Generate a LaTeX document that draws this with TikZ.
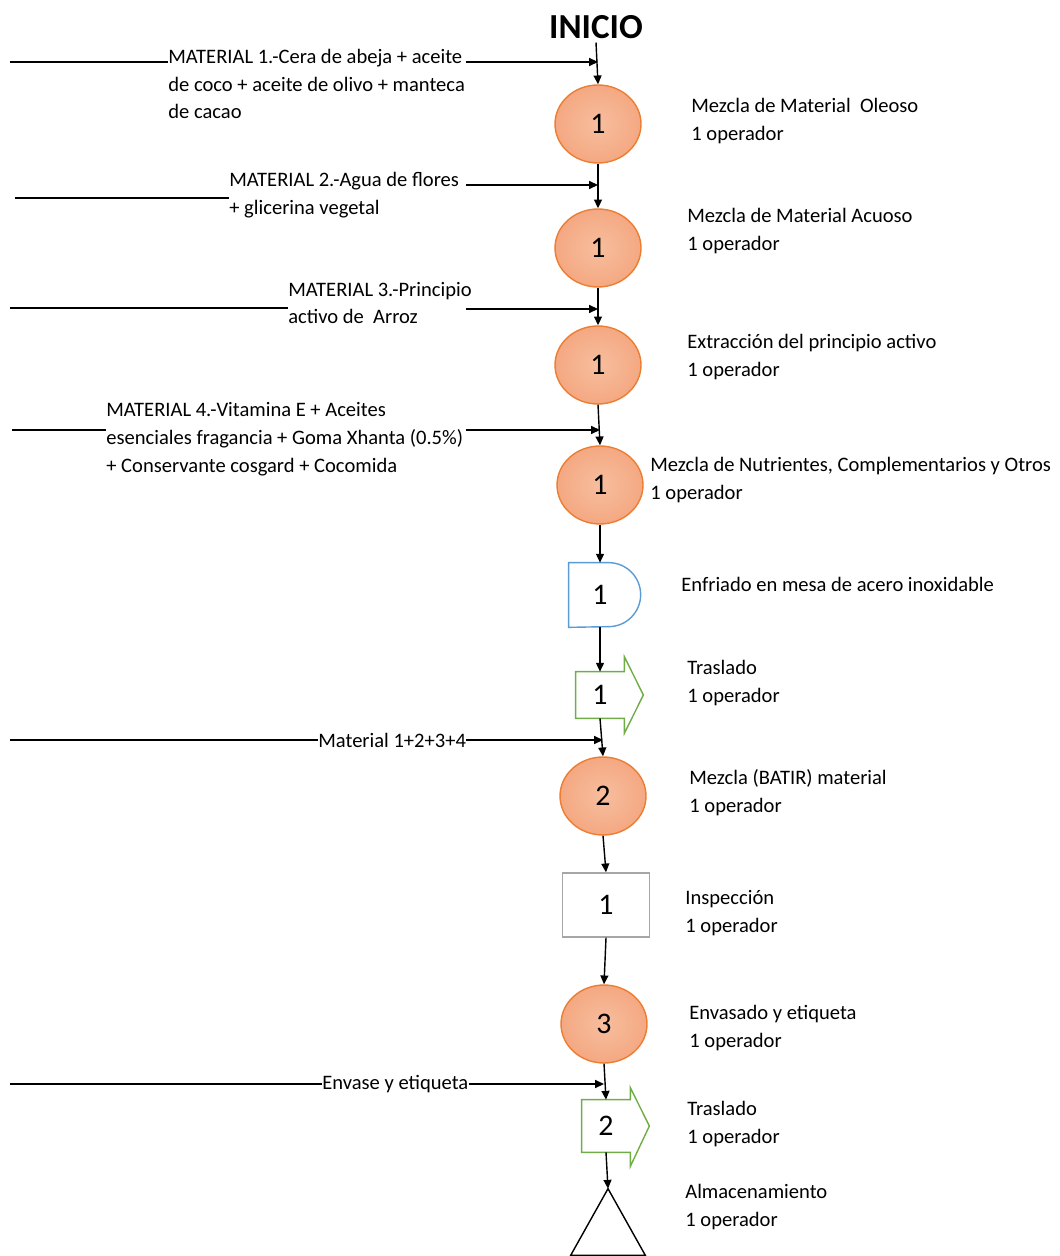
\documentclass[tikz,border=0pt]{standalone}
\usepackage{fontspec}
\setmainfont{Carlito}
\usetikzlibrary{shapes.geometric,arrows.meta,calc}

\definecolor{opclaro}{RGB}{247,190,158}
\definecolor{oposcuro}{RGB}{244,168,130}
\definecolor{opborde}{RGB}{237,125,49}
\definecolor{azul}{RGB}{91,155,213}
\definecolor{verde}{RGB}{112,173,71}
\definecolor{gris}{RGB}{166,166,166}

\begin{document}
\begin{tikzpicture}[x=0.02cm,y=-0.02cm,
    every node/.style={font=\fontsize{11.7}{15.9}\selectfont},
    texto/.style={anchor=west,align=left,inner sep=0pt},
    numero/.style={inner sep=0pt,font=\fontsize{17}{17}\selectfont},
    operacion/.style={numero,ellipse,draw=opborde,line width=0.8pt,inner color=opclaro,outer color=oposcuro,minimum width=1.72cm,minimum height=1.56cm},
    flecha/.style={line width=0.8pt,-{Triangle[length=5pt,width=4.5pt]}},
    linea/.style={line width=0.8pt}]

  \useasboundingbox (0,0) rectangle (1059,1256);

  % inicio y simbolos del proceso
  \node[font=\fontsize{20}{20}\selectfont\bfseries,inner sep=2pt] (inicio) at (596,27) {INICIO};
  \node[operacion] (op1) at (598,124) {1};
  \node[operacion] (op2) at (598,248) {1};
  \node[operacion] (op3) at (598,365) {1};
  \node[operacion] (op4) at (600,485) {1};
  \node[numero,minimum width=1.24cm,minimum height=1.28cm] (enf) at (600,595) {1};
  \node[numero,minimum width=0.96cm,minimum height=0.92cm] (tr1) at (600,695) {1};
  \node[operacion] (op5) at (603,796) {2};
  \node[numero,draw=gris,line width=0.8pt,minimum width=1.74cm,minimum height=1.28cm] (insp) at (606,905) {1};
  \node[operacion] (op6) at (604,1024) {3};
  \node[numero,minimum width=0.96cm,minimum height=1.04cm] (tr2) at (606,1126) {2};
  \node[minimum width=1.48cm,minimum height=1.32cm] (alm) at (608,1222) {};

  % demora (forma de D)
  \draw[azul,line width=0.8pt] (enf.north west) -- ++(40,0) arc[start angle=90,end angle=-90,radius=0.64cm] -- (enf.south west) -- cycle;

  % traslados (flechas de bloque)
  \draw[verde,line width=0.8pt] (tr1.north west) -- (tr1.north east) -- ++(0,-15) -- ($(tr1.east)+(19,0)$) -- ($(tr1.south east)+(0,15)$) -- (tr1.south east) -- (tr1.south west) -- cycle;
  \draw[verde,line width=0.8pt] (tr2.north west) -- (tr2.north east) -- ++(0,-12) -- ($(tr2.east)+(19,0)$) -- ($(tr2.south east)+(0,14)$) -- (tr2.south east) -- (tr2.south west) -- cycle;

  % almacenamiento
  \draw[line width=0.8pt] (alm.north) -- (alm.south east) -- (alm.south west) -- cycle;

  % flujo principal
  \draw[flecha] (inicio.south) -- (op1.north);
  \draw[flecha] (op1.south) -- (op2.north);
  \draw[flecha] (op2.south) -- (op3.north);
  \draw[flecha] (op3.south) -- (op4.north);
  \draw[flecha] (op4.south) -- (enf.north);
  \draw[flecha] (enf.south) -- (tr1.north);
  \draw[flecha] (tr1.south) -- (op5.north);
  \draw[flecha] (op5.south) -- (insp.north);
  \draw[flecha] (insp.south) -- (op6.north);
  \draw[flecha] (op6.south) -- (tr2.north);
  \draw[flecha] (tr2.south) -- (alm.north);

  % materiales que entran al proceso
  \node[texto] (m1) at (168,84) {MATERIAL 1.-Cera de abeja + aceite\\de coco + aceite de olivo + manteca\\de cacao};
  \draw[linea] (10,62) coordinate (m1a) -- (m1a -| m1.west);
  \draw[flecha] (466,62) coordinate (m1b) -- (m1b -| op1);

  \node[texto] (m2) at (229,195) {MATERIAL 2.-Agua de flores\\+ glicerina vegetal};
  \draw[linea] (15,198) coordinate (m2a) -- (m2a -| m2.west);
  \draw[flecha] (466,185) coordinate (m2b) -- (m2b -| op2);

  \node[texto] (m3) at (288,303) {MATERIAL 3.-Principio\\activo de~ Arroz};
  \draw[linea] (10,308) coordinate (m3a) -- (m3a -| m3.west);
  \draw[flecha] (466,309) coordinate (m3b) -- (m3b -| op3);

  \node[texto] (m4) at (106,439) {MATERIAL 4.-Vitamina E + Aceites\\esenciales fragancia + Goma Xhanta (0.5\%)\\+ Conservante cosgard + Cocomida};
  \draw[linea] (12,430) coordinate (m4a) -- (m4a -| m4.west);
  \draw[flecha] (466,430) coordinate (m4b) -- (m4b -| op4);

  \node[texto] (m5) at (318,740) {Material 1+2+3+4};
  \draw[linea] (10,740) coordinate (m5a) -- (m5.west);
  \draw[flecha] (m5.east) -- (m5.east -| op5);

  \node[texto] (m6) at (322,1084) {Envase y etiqueta};
  \draw[linea] (10,1084) coordinate (m6a) -- (m6.west);
  \draw[flecha] (m6.east) -- (m6.east -| op6);

  % descripciones de cada paso
  \node[texto] (d1) at (691,121) {Mezcla de Material~ Oleoso\\1 operador};
  \node[texto] (d2) at (687,231) {Mezcla de Material Acuoso\\1 operador};
  \node[texto] (d3) at (687,357) {Extracción del principio activo\\1 operador};
  \node[texto] (d4) at (650,480) {Mezcla de Nutrientes, Complementarios y Otros\\1 operador};
  \node[texto] (d5) at (681,584) {Enfriado en mesa de acero inoxidable};
  \node[texto] (d6) at (687,683) {Traslado\\1 operador};
  \node[texto] (d7) at (689,793) {Mezcla (BATIR) material\\1 operador};
  \node[texto] (d8) at (685,913) {Inspección\\1 operador};
  \node[texto] (d9) at (689,1028) {Envasado y etiqueta\\1 operador};
  \node[texto] (d10) at (687,1124) {Traslado\\1 operador};
  \node[texto] (d11) at (685,1207) {Almacenamiento\\1 operador};
\end{tikzpicture}
\end{document}
